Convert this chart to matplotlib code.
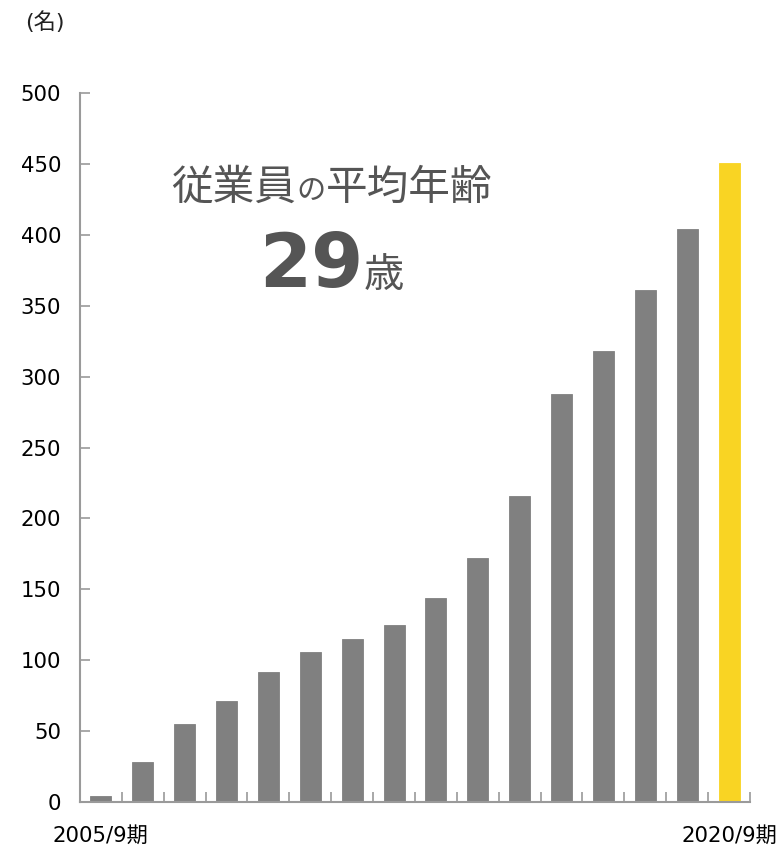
import matplotlib.pyplot as plt
import numpy as np

plt.rcParams['font.family'] = ['DejaVu Sans', 'Noto Sans CJK JP']

# employees per fiscal year (Sep year-end)
years = ['2005/9期', '2006/9期', '2007/9期', '2008/9期', '2009/9期', '2010/9期',
         '2011/9期', '2012/9期', '2013/9期', '2014/9期', '2015/9期', '2016/9期',
         '2017/9期', '2018/9期', '2019/9期', '2020/9期']
employees = [4, 28, 55, 71, 92, 106, 115, 125, 144, 172, 216, 288, 318, 361, 404, 451]
avg_age = 29

gray = '#808080'
yellow = '#F9D423'
text_col = '#555555'
spine_col = '#9a9a9a'

W, H = 781, 848
fig = plt.figure(figsize=(W / 100, H / 100), dpi=100)
ax = fig.add_axes([0.1024, 0.0542, 0.8579, 0.8361])

x = np.arange(len(years))
colors = [gray] * (len(years) - 1) + [yellow]
ax.bar(x, employees, width=0.5, color=colors, edgecolor=colors, linewidth=0.6, zorder=2)

ax.set_xlim(-0.5, len(years) - 0.5)
ax.set_ylim(0, 500)
ax.set_yticks(np.arange(0, 501, 50))
ax.tick_params(axis='y', direction='in', length=7, width=1.2, color=spine_col,
               labelsize=15.3, pad=13.5)

# category boundary ticks on the x axis
ax.set_xticks(np.arange(-0.5, len(years)), minor=False)
ax.set_xticklabels([])
ax.tick_params(axis='x', direction='in', length=7, width=1.2, color=spine_col)
ax.set_xticks(x, minor=True)
labels = [''] * len(years)
labels[0] = years[0]
labels[-1] = years[-1]
ax.set_xticklabels(labels, minor=True)
ax.tick_params(axis='x', which='minor', length=0, labelsize=15.3, pad=17)

for s in ['top', 'right']:
    ax.spines[s].set_visible(False)
for s in ['left', 'bottom']:
    ax.spines[s].set_color(spine_col)
    ax.spines[s].set_linewidth(1.5)

fig.text(25 / W, 1 - 22 / H, '(名)', fontsize=16, ha='left', va='center',
         color='#222222')

# average age callout
jp = ['Noto Sans CJK JP', 'DejaVu Sans']
base = 1 - 200 / H
fig.text(171 / W, base, '従業員', fontsize=30, family=jp, color=text_col,
         ha='left', va='baseline')
fig.text(296 / W, base, 'の', fontsize=21, family=jp, color=text_col,
         ha='left', va='baseline')
fig.text(326 / W, base, '平均年齢', fontsize=30, family=jp, color=text_col,
         ha='left', va='baseline')
base2 = 1 - 287 / H
fig.text(363 / W, base2, str(avg_age), fontsize=54, fontweight='bold',
         color=text_col, ha='right', va='baseline')
fig.text(364 / W, base2, '歳', fontsize=29, family=jp, color=text_col,
         ha='left', va='baseline')

fig.savefig('out.png', dpi=100)
